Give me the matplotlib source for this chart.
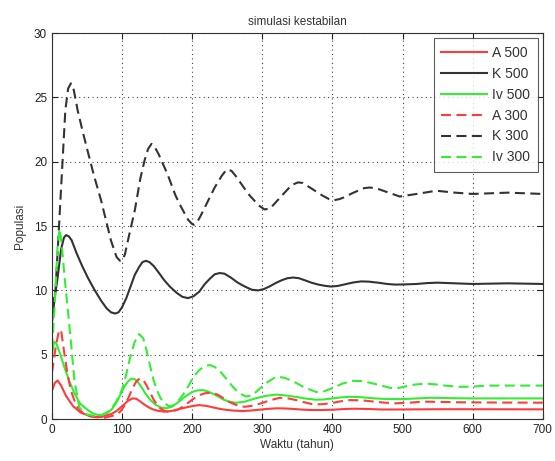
import matplotlib
matplotlib.use("Agg")
import matplotlib.pyplot as plt

# ---- data ----
t_k300 = [0, 5, 10, 14, 19, 23, 27, 31, 36.6, 44, 51, 60, 70, 84, 92, 97, 100, 104, 110, 118, 126,
          132, 137, 142, 147, 152, 165, 176, 184, 194, 199, 202, 207, 212, 222, 232, 242, 249, 256,
          262, 280, 295, 303, 310, 315, 330, 342, 351, 358, 365, 385, 395, 401, 410, 415, 430, 445,
          453, 462, 475, 496, 520, 548, 575, 600, 650, 700]
v_k300 = [8.7, 10, 15, 19, 24, 25.7, 26.1, 25.6, 24.0, 22.3, 20.8, 18.9, 17.0, 13.9, 12.6, 12.3, 12.3,
          12.8, 14.3, 16.2, 18.7, 20.1, 21.0, 21.4, 21.1, 20.6, 19.0, 17.4, 16.5, 15.5, 15.2, 15.1,
          15.3, 15.8, 16.9, 18.0, 18.9, 19.4, 19.3, 18.9, 17.5, 16.6, 16.3, 16.35, 16.6, 17.5, 18.2,
          18.4, 18.35, 18.1, 17.4, 17.1, 17.0, 17.1, 17.2, 17.6, 17.95, 18.0, 17.95, 17.7, 17.3,
          17.5, 17.75, 17.6, 17.5, 17.6, 17.5]

t_k500 = [0, 4, 8, 13, 17, 20, 24, 28, 35, 43, 51, 60, 70, 78, 84, 90, 95, 100, 106, 112, 118, 124,
          129, 134, 139, 145, 152, 160, 168, 178, 186, 194, 202, 210, 218, 225, 232, 239, 246, 255,
          265, 275, 285, 294, 302, 310, 320, 328, 336, 344, 352, 360, 370, 380, 390, 398, 408, 420,
          430, 441, 452, 465, 478, 490, 505, 520, 535, 550, 575, 600, 650, 700]
v_k500 = [7.5, 9.5, 11.0, 13.2, 14.1, 14.3, 14.2, 13.9, 12.9, 11.9, 11.0, 10.1, 9.2, 8.6, 8.3, 8.2,
          8.3, 8.7, 9.4, 10.3, 11.2, 11.8, 12.2, 12.3, 12.2, 11.9, 11.4, 10.8, 10.3, 9.8, 9.5, 9.4,
          9.55, 9.9, 10.5, 10.9, 11.25, 11.35, 11.3, 11.0, 10.6, 10.3, 10.05, 10.0, 10.1, 10.3, 10.6,
          10.8, 10.95, 11.0, 10.95, 10.8, 10.6, 10.45, 10.35, 10.3, 10.35, 10.5, 10.62, 10.7, 10.68,
          10.6, 10.5, 10.45, 10.47, 10.5, 10.57, 10.6, 10.55, 10.5, 10.55, 10.5]

t_iv300 = [0, 4, 8, 11, 14, 18, 22, 27, 32, 39, 45, 50, 60, 70, 78, 85, 92, 100, 106, 112, 118, 124,
           130, 135, 140, 145, 150, 155, 161, 167, 173, 180, 187, 195, 202, 210, 217, 225, 232, 240,
           249, 258, 267, 277, 286, 295, 307, 320, 332, 345, 360, 377, 388, 400, 414, 429, 442, 455,
           470, 484, 495, 505, 518, 532, 546, 560, 583, 600, 620, 660, 700]
v_iv300 = [5.5, 9, 13.5, 14.8, 13.5, 11, 8.8, 6.0, 3.0, 0.9, 0.5, 0.35, 0.25, 0.3, 0.5, 0.8, 1.4,
           2.3, 3.5, 4.9, 6.0, 6.6, 6.3, 5.3, 4.1, 3.0, 2.2, 1.6, 1.2, 1.0, 1.05, 1.4, 1.9, 2.6,
           3.3, 3.8, 4.1, 4.2, 4.05, 3.7, 3.1, 2.5, 2.0, 1.75, 1.85, 2.3, 2.85, 3.3, 3.2, 2.9, 2.45,
           2.1, 2.15, 2.4, 2.75, 2.97, 2.95, 2.8, 2.6, 2.4, 2.42, 2.55, 2.68, 2.75, 2.7, 2.6, 2.5,
           2.52, 2.6, 2.6, 2.6]

t_iv500 = [0, 3, 6, 12, 17.5, 25, 32, 40, 51, 58, 65, 72, 80, 86, 92, 98, 103, 108, 113, 118, 122,
           128, 133, 140, 148, 155, 163, 171, 180, 190, 200, 207, 215, 222, 230, 238, 245, 253, 262,
           275, 290, 305, 320, 335, 350, 363, 377, 388, 400, 412, 425, 440, 460, 480, 500, 520, 540,
           570, 600, 650, 700]
v_iv500 = [5.0, 6.0, 5.9, 5.0, 4.05, 2.9, 2.0, 1.2, 0.7, 0.45, 0.32, 0.3, 0.5, 0.8, 1.3, 1.95, 2.5,
           2.9, 3.15, 3.1, 2.9, 2.45, 2.0, 1.5, 1.1, 0.9, 0.83, 0.95, 1.3, 1.75, 2.1, 2.22, 2.25,
           2.15, 1.95, 1.72, 1.5, 1.35, 1.26, 1.35, 1.6, 1.8, 1.9, 1.82, 1.7, 1.58, 1.5, 1.52, 1.6,
           1.68, 1.73, 1.7, 1.6, 1.55, 1.55, 1.6, 1.65, 1.62, 1.6, 1.6, 1.6]

t_a300 = [0, 5, 10, 13, 17.6, 22, 27, 35, 45, 60, 75, 90, 97, 103, 109, 115, 120, 125, 130, 135, 140,
          145, 150, 155, 160, 165, 172, 180, 188, 195, 203, 210, 218, 227, 236, 245, 252, 260, 268,
          275, 288, 300, 312, 325, 337, 350, 360, 372, 386, 400, 412, 425, 442, 460, 475, 490, 510,
          530, 555, 580, 640, 700]
v_a300 = [3.6, 5.5, 6.9, 6.9, 5.1, 3.5, 2.2, 1.0, 0.4, 0.15, 0.1, 0.3, 0.55, 1.0, 1.65, 2.4, 2.9,
          3.15, 3.05, 2.6, 2.05, 1.5, 1.1, 0.8, 0.65, 0.57, 0.6, 0.75, 1.0, 1.3, 1.62, 1.85, 2.0,
          2.04, 1.9, 1.6, 1.35, 1.15, 1.0, 0.95, 1.05, 1.25, 1.47, 1.65, 1.6, 1.45, 1.3, 1.14, 1.15,
          1.25, 1.38, 1.47, 1.45, 1.35, 1.27, 1.22, 1.27, 1.35, 1.33, 1.3, 1.28, 1.27]

t_a500 = [0, 4, 8, 13, 20, 30, 41, 55, 70, 85, 92, 98, 103, 108, 115, 120, 125, 131, 138, 144, 150,
          160, 170, 180, 188, 195, 203, 210, 220, 230, 240, 250, 260, 272, 284, 295, 308, 320, 332,
          345, 357, 370, 385, 400, 415, 430, 450, 470, 495, 520, 560, 600, 700]
v_a500 = [2.2, 2.8, 3.0, 2.6, 1.8, 1.0, 0.5, 0.2, 0.15, 0.4, 0.62, 0.9, 1.15, 1.4, 1.6, 1.58, 1.4,
          1.15, 0.9, 0.75, 0.65, 0.57, 0.62, 0.75, 0.86, 0.95, 1.03, 1.08, 1.02, 0.9, 0.78, 0.7,
          0.65, 0.62, 0.66, 0.72, 0.79, 0.83, 0.82, 0.78, 0.73, 0.7, 0.7, 0.72, 0.77, 0.8, 0.78, 0.74,
          0.74, 0.75, 0.76, 0.76, 0.75]

x_ticks = [0, 100, 200, 300, 400, 500, 600, 700]
y_ticks = [0, 5, 10, 15, 20, 25, 30]

RED = "#ff3b3b"
BLACK = "#333333"
GREEN = "#33ee33"

plt.rcParams['font.family'] = ['Liberation Sans', 'DejaVu Sans']

fig = plt.figure(figsize=(5.55, 4.61), dpi=100)
ax = fig.add_axes([0.0937, 0.0911, 0.978 - 0.0937, 0.928 - 0.0911])

lw = 1.5
dash = (0, (4.8, 2.6))
ax.plot(t_a500, v_a500, color=RED, lw=lw, label="A 500")
ax.plot(t_k500, v_k500, color=BLACK, lw=lw, label="K 500")
ax.plot(t_iv500, v_iv500, color=GREEN, lw=lw, label="Iv 500")
ax.plot(t_a300, v_a300, color=RED, lw=lw, ls=dash, label="A 300")
ax.plot(t_k300, v_k300, color=BLACK, lw=lw, ls=dash, label="K 300")
ax.plot(t_iv300, v_iv300, color=GREEN, lw=lw, ls=dash, label="Iv 300")

ax.set_xlim(0, 700)
ax.set_ylim(0, 30)
ax.set_xticks(x_ticks)
ax.set_yticks(y_ticks)
ax.tick_params(direction='in', top=True, right=True, labelsize=8.5, colors='#222222', length=4)
ax.grid(True, color='#444444', ls=(0, (1, 3)), lw=0.8)
for s in ax.spines.values():
    s.set_color('#333333')
    s.set_linewidth(0.8)

ax.set_title("simulasi kestabilan", fontsize=8.5, color='#333333', pad=6)
ax.set_xlabel("Waktu (tahun)", fontsize=8.5, color='#333333', labelpad=2)
ax.set_ylabel("Populasi", fontsize=8.5, color='#333333', labelpad=6)

leg = ax.legend(loc='upper right', fontsize=10, frameon=True, fancybox=False,
                edgecolor='#333333', handlelength=3.3, borderaxespad=0.35,
                labelspacing=0.5, handletextpad=0.36, borderpad=0.55)
leg.get_frame().set_linewidth(0.8)
for txt in leg.get_texts():
    txt.set_color('#333333')

fig.savefig("out.png", dpi=100)
